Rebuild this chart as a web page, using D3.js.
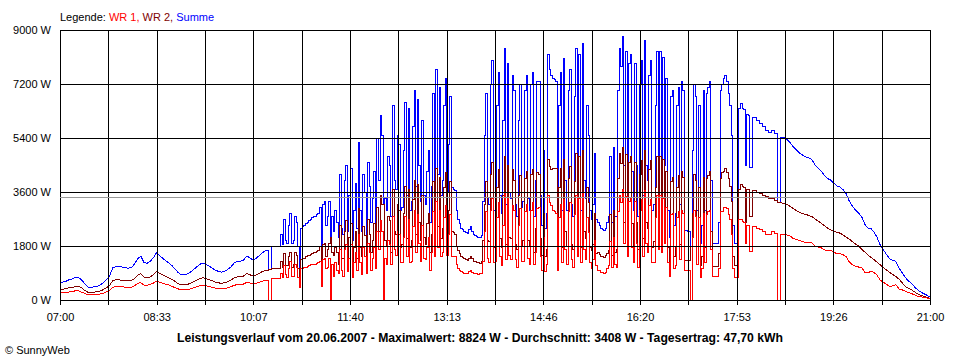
<!DOCTYPE html>
<html><head><meta charset="utf-8">
<script src="https://cdn.jsdelivr.net/npm/d3@7"></script>
<style>
body{margin:0;background:#fff;}
svg{display:block;font-family:"Liberation Sans",Arial,sans-serif;}
</style></head><body>
<svg id="chart" width="960" height="360"></svg>
<script>
// ---- sampling: 3-min samples, 1.5-min samples in the cloudy midday part ----
const startMinute = 7 * 60;      // 07:00
const endMinute = 21 * 60;       // 21:00
const fineStart = 633;           // 10:33
const fineEnd = 1086;            // 18:06
const coarseStep = 3;
const fineStep = 1.5;

// ---- Summe (W) ----
const summeMorning = [
  570,600,630,680,700,760,750,660,540,430,
  420,440,460,500,580,680,820,1080,1110,1110,
  1100,1080,1060,1080,1200,1380,1460,1260,1220,1290,
  1400,1570,1480,1400,1310,1240,1150,1030,920,840,
  850,870,930,1020,1100,1190,1230,1180,1130,1060,
  1000,950,930,960,1020,1100,1230,1280,1290,1320,
  1460,1420,1340,1380,1470,1560,1640,1030,1770,1770,
  1770
];
const summeMidday = [
  2200,1850,2700,2000,1900,2500,2900,1900,2000,2800,
  2600,1800,900,2400,2450,2500,2550,2600,2650,2700,
  2750,2780,2800,2850,2900,3100,1300,3200,3300,2500,
  2800,3300,2100,2800,2300,3000,2600,2100,4200,2400,
  2200,4000,4500,2300,3500,4400,2000,3000,3900,2400,
  5250,3000,2300,4200,3600,2200,4600,3800,2600,3400,
  4300,2500,5400,4000,6150,5500,3200,3400,3000,4800,
  4500,2800,6500,4000,3700,5500,5200,3000,3100,5000,
  6600,3500,6400,3000,3300,5800,7000,3800,6700,4500,
  3300,6000,3500,3200,4300,5000,2600,3800,6900,3500,
  7700,4200,7100,3500,4000,6500,7400,3600,5200,6800,
  3750,3700,3650,3000,2700,2550,2400,2350,2300,2250,
  2230,2350,2450,2300,2200,2150,2120,2100,2100,2150,
  3300,5500,6900,3400,3200,7200,8000,3000,3300,6500,
  7600,3500,2900,6000,8400,3200,7900,3600,3400,7500,
  7000,3200,2800,6000,7200,3100,3300,7000,7500,3400,
  3000,7200,7600,2800,4000,7300,7300,3500,2500,5000,
  2400,2900,8200,7700,7500,7400,7350,7300,2500,6500,
  7600,3000,8050,4000,3000,7000,7700,3200,2800,6800,
  8400,3500,8200,3000,8550,4000,3400,6500,5500,3000,
  2700,3200,4900,2700,2600,2500,2370,2350,2330,2400,
  2600,2800,4800,2600,5100,2800,2800,7000,8400,7800,
  8770,4500,8300,3500,7900,8200,4300,3000,7900,4500,
  2800,7200,8000,3500,8650,4500,4000,7500,8000,3000,
  3200,6500,8300,4000,8300,3800,8100,4500,7400,3000,
  2100,6800,7000,2500,2900,6500,7100,3200,7300,7000,
  2330,2330,2300,2300,1770,5000,7200,6800,3000,6500,
  1900,2500,7000,3000,6900,7100,7300,4000,1900,1900,
  1900,1900,2600,7000,7200,7400,7500,7300,6900,6500,
  5500,2500,1900,1900,1850,6400,6550,6400,6350,4500,
  6200,6150
];
const summeEvening = [
  4430,6100,6000,5900,5800,5650,5600,5650,
  5550,3250,5430,5420,5350,5250,5100,5000,4900,4830,
  4770,4740,4680,4500,4400,4300,4150,4050,4000,3900,
  3800,3770,3680,3550,3300,3130,3000,2900,2780,2530,
  2400,2380,2260,2080,1830,1670,1520,1370,1320,1290,
  1070,920,760,640,560,440,340,270,210,160,100
];

// ---- WR 2 (W) ----
const wr2Morning = [
  340,360,380,410,420,450,450,400,320,260,
  250,260,280,300,350,410,490,650,670,670,
  660,650,640,650,720,830,880,760,730,770,
  840,940,890,840,790,740,690,620,550,500,
  510,520,560,610,660,710,740,710,680,640,
  600,570,560,580,610,660,740,770,770,790,
  880,850,800,830,880,940,980,1030,1040,1040,
  1040
];
const wr2Midday = [
  1300,1100,1550,1150,1150,1450,1600,1100,1200,1600,
  1500,1050,480,1350,1400,1400,1450,1480,1500,1520,
  1550,1580,1600,1620,1650,1800,850,1850,1900,1450,
  1700,1900,2100,1600,1500,1750,1600,1200,2500,1400,
  1400,2300,2650,1350,2100,2550,1250,1750,2300,1400,
  3050,1750,1450,2450,2150,1300,2700,2200,1600,2000,
  2550,1450,3100,2300,3500,3200,3200,2000,1800,2800,
  2650,1600,3700,2300,2200,3200,3000,1750,1850,2900,
  3800,2050,3700,1750,2000,3350,4000,2200,3850,2600,
  2000,3500,2100,1850,2550,2900,1600,2200,3950,2050,
  4400,2450,4100,2050,2400,3750,4250,2100,3000,3950,
  2300,2250,2200,1800,1650,1550,1450,1420,1400,1360,
  1330,1400,1450,1370,1300,1270,1250,1240,1230,1270,
  2000,3200,3950,2000,1950,4200,4600,1750,2000,3750,
  4350,2050,1750,3500,4800,1850,4500,2100,2050,4350,
  4000,1850,1700,3500,4150,1800,2000,4050,4300,2000,
  1800,4200,4350,1600,2400,4250,4200,2050,1500,2900,
  1450,1700,4700,4450,4350,4400,4400,4400,1500,3750,
  4400,1750,4700,2300,1800,4050,4450,1850,1700,3950,
  4900,2050,4800,1750,5000,2300,2050,3750,3250,1750,
  1650,1850,2900,1550,1600,1520,1450,1440,1430,1470,
  1550,1650,2850,1500,3000,1600,1700,4050,4900,4550,
  5100,2600,4850,2050,4600,4800,2550,1750,4600,2600,
  1700,4200,4650,2050,5000,2600,2400,4350,4650,1750,
  1950,3750,4800,2300,4800,2200,4700,2600,4300,1750,
  1300,3950,4100,1450,1750,3750,4150,1850,4300,4100,
  1330,1330,1330,1330,1770,2900,4200,4000,1800,3750,
  1150,1450,4100,1750,4050,4150,4300,2300,1130,1130,
  1120,1120,1550,4050,4250,4300,4400,4250,4050,3800,
  3300,1450,1150,1150,1100,3700,3850,3780,3750,2600,
  3700,3680
];
const wr2Evening = [
  2800,3650,3600,3550,3500,3450,3400,3380,
  3330,3250,3240,3220,3180,3120,3050,2980,2920,2880,
  2850,2820,2780,2700,2630,2560,2480,2400,2340,2300,
  2260,2230,2170,2100,2030,1950,1870,1800,1700,1600,
  1500,1420,1340,1260,1170,1080,1000,920,850,780,
  700,580,460,390,340,270,210,160,120,90,50
];

// ---- WR 1 (W) ----
const wr1Morning = [
  230,240,250,270,280,310,300,260,220,170,
  170,180,180,200,230,270,330,430,440,440,
  440,430,420,430,480,550,580,500,490,520,
  560,630,590,560,520,500,460,410,370,340,
  340,350,370,410,440,480,490,470,450,420,
  400,380,370,380,410,440,490,510,520,530,
  580,570,540,550,590,620,660,0,730,730,
  730
];
const wr1Midday = [
  900,750,1150,850,750,1050,1300,800,800,1200,
  1100,750,420,1050,1050,1100,1100,1120,1150,1180,
  1200,1200,1200,1230,1250,1300,450,1350,1400,1050,
  1100,1400,0,1200,800,1250,1000,900,1700,1000,
  800,1700,1850,950,1400,1850,750,1250,1600,1000,
  2200,1250,850,1750,1450,900,1900,1600,1000,1400,
  1750,1050,2300,1700,2650,2300,0,1400,1200,2000,
  1850,1200,2800,1700,1500,2300,2200,1250,1250,2100,
  2800,1450,2700,1250,1300,2450,3000,1600,2850,1900,
  1300,2500,1400,1350,1750,2100,1000,1600,2950,1450,
  3300,1750,3000,1450,1600,2750,3150,1500,2200,2850,
  1450,1450,1450,1200,1050,1000,950,930,900,890,
  900,950,1000,930,900,880,870,860,870,880,
  1300,2300,2950,1400,1250,3000,3400,1250,1300,2750,
  3250,1450,1150,2500,3600,1350,3400,1500,1350,3150,
  3000,1350,1100,2500,3050,1300,1300,2950,3200,1400,
  1200,3000,3250,1200,1600,3050,3100,1450,1000,2100,
  950,1200,3500,3250,3150,3000,2950,2900,1000,2750,
  3200,1250,3350,1700,1200,2950,3250,1350,1100,2850,
  3500,1450,3400,1250,3550,1700,1350,2750,2250,1250,
  1050,1350,2000,1150,1000,980,920,910,900,930,
  1050,1150,1950,1100,2100,1200,1100,2950,3500,3250,
  3670,1900,3450,1450,3300,3400,1750,1250,3300,1900,
  1100,3000,3350,1450,3650,1900,1600,3150,3350,1250,
  1250,2750,3500,1700,3500,1600,3400,1900,3100,1250,
  800,2850,2900,1050,1150,2750,2950,1350,3000,2900,
  1000,1000,970,970,0,2100,3000,2800,1200,2750,
  750,1050,2900,1250,2850,2950,3000,1700,770,770,
  780,780,1050,2950,2950,3100,3100,3050,2850,2700,
  2200,1050,750,750,750,2700,2700,2620,2600,1900,
  2500,2470
];
const wr1Evening = [
  1630,2450,2400,2350,2300,2200,2200,2270,
  2220,0,2190,2200,2170,2130,2050,2020,1980,1950,
  1920,1920,1900,1800,1770,1740,1670,1650,1660,1600,
  1540,1540,1510,1450,1270,1180,1130,1100,1080,930,
  900,960,920,820,660,590,520,450,470,510,
  370,340,300,250,220,170,130,110,90,70,50
];

const yTickValues = [0, 1800, 3600, 5400, 7200, 9000];
const xTickLabels = ["07:00","08:33","10:07","11:40","13:13","14:46","16:20","17:53","19:26","21:00"];
const averageValue = 3408;
const legendTitle = "Legende: ";
const seriesNames = ["WR 1", "WR 2", "Summe"];
const titleText = "Leistungsverlauf vom 20.06.2007 - Maximalwert: 8824 W - Durchschnitt: 3408 W - Tagesertrag: 47,70 kWh";
const creditText = "\u00A9 SunnyWeb";

// ---- assemble ----
const sampleMinutes = [
  ...d3.range(startMinute, fineStart, coarseStep),
  ...d3.range(fineStart, fineEnd, fineStep),
  ...d3.range(fineEnd, endMinute + 0.001, coarseStep)
];
const wr1 = [...wr1Morning, ...wr1Midday, ...wr1Evening];
const wr2 = [...wr2Morning, ...wr2Midday, ...wr2Evening];
const summe = [...summeMorning, ...summeMidday, ...summeEvening];

// stepped drawing where the signal is jumpy, straight segments where it is smooth
const stepFrom = 618;   // 10:18
const stepTo = 1116;    // 18:36

// ---- drawing ----
const colors = ["#ff0000", "#800000", "#0000ff"];
const svg = d3.select("#chart");
const mLeft = 60, mRight = 930, mTop = 30, mBottom = 300;

const x = d3.scaleLinear().domain([startMinute, endMinute]).range([mLeft, mRight]);
const y = d3.scaleLinear().domain([0, 9000]).range([mBottom, mTop]);

const linearLine = d3.line().x(p => x(p[0])).y(p => y(p[1]));
const stepLine = d3.line().x(p => x(p[0])).y(p => y(p[1])).curve(d3.curveStepAfter);

const seriesData = [wr1, wr2, summe];
const plot = svg.append("g");
[2, 1, 0].forEach(k => {
  const pts = seriesData[k].map((v, i) => [sampleMinutes[i], v]);
  const g = plot.append("g")
    .attr("fill", "none")
    .attr("stroke", colors[k])
    .attr("stroke-width", 1)
    .attr("shape-rendering", "crispEdges");
  g.append("path").datum(pts.filter(p => p[0] <= stepFrom)).attr("d", linearLine);
  g.append("path").datum(pts.filter(p => p[0] >= stepFrom && p[0] <= stepTo)).attr("d", stepLine);
  g.append("path").datum(pts.filter(p => p[0] >= stepTo)).attr("d", linearLine);
});

// grid + axes
const xTickCount = (xTickLabels.length - 1) * 2;
const xTicks = d3.range(xTickCount + 1).map(k => startMinute + k * (endMinute - startMinute) / xTickCount);

const yAxis = svg.append("g")
  .attr("transform", `translate(${mLeft},0)`)
  .call(d3.axisLeft(y).tickValues(yTickValues).tickSize(-(mRight - mLeft)).tickPadding(9)
    .tickFormat(d => d + " W"));
yAxis.select(".domain").remove();

const xGrid = svg.append("g")
  .attr("transform", `translate(0,${mBottom})`)
  .call(d3.axisBottom(x).tickValues(xTicks).tickSize(-(mBottom - mTop)).tickFormat(""));
xGrid.select(".domain").remove();

const xAxis = svg.append("g")
  .attr("transform", `translate(0,${mBottom})`)
  .call(d3.axisBottom(x).tickValues(xTicks).tickSize(5).tickPadding(8)
    .tickFormat((d, i) => i % 2 === 0 ? xTickLabels[i / 2] : ""));
xAxis.select(".domain").remove();

svg.selectAll(".tick line").attr("stroke", "#000").attr("shape-rendering", "crispEdges");
svg.selectAll(".tick text").attr("fill", "#000").style("font-size", "11px")
  .style("font-family", '"Liberation Sans", Arial, sans-serif');

// average line
svg.append("line")
  .attr("x1", mLeft).attr("x2", mRight)
  .attr("y1", y(averageValue)).attr("y2", y(averageValue))
  .attr("stroke", "#999").attr("stroke-width", 1)
  .attr("shape-rendering", "crispEdges");

// legend
const legend = svg.append("text").attr("x", 60).attr("y", 21).style("font-size", "11px");
legend.append("tspan").text(legendTitle).attr("fill", "#000");
seriesNames.forEach((n, k) => {
  legend.append("tspan").text(n + (k < seriesNames.length - 1 ? ", " : "")).attr("fill", colors[k]);
});

// title
svg.append("text")
  .attr("x", 480).attr("y", 342)
  .attr("text-anchor", "middle")
  .attr("textLength", 606).attr("lengthAdjust", "spacingAndGlyphs")
  .style("font-size", "12px").style("font-weight", "bold")
  .text(titleText);

svg.append("text")
  .attr("x", 5).attr("y", 354)
  .style("font-size", "11px")
  .text(creditText);
</script>
</body></html>
